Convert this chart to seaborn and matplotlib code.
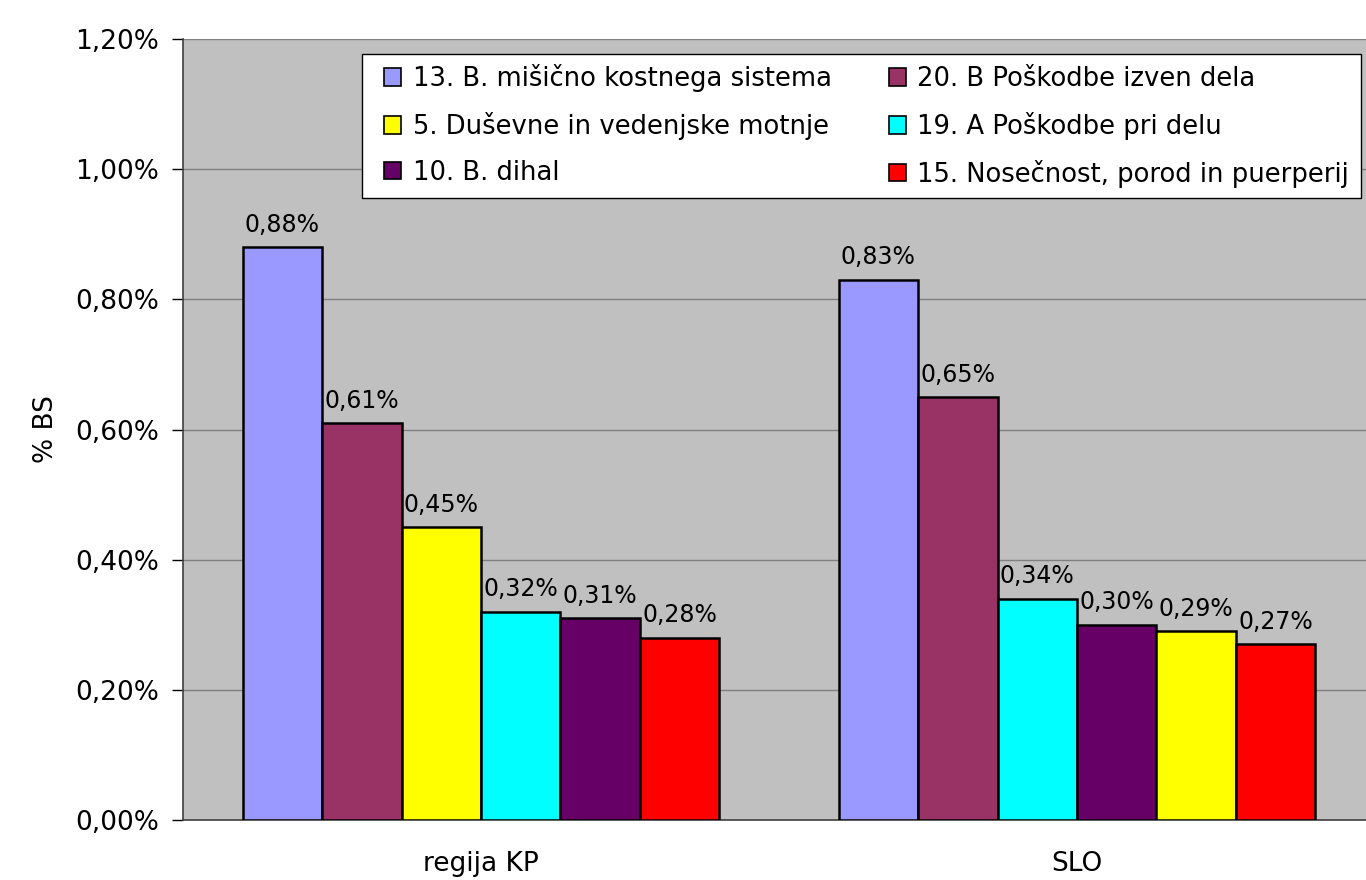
import numpy as np
import pandas as pd
import seaborn as sns
import matplotlib.pyplot as plt
from matplotlib.patches import Patch, Rectangle
from matplotlib.ticker import FuncFormatter, FixedLocator

# data (values in %)
groups = ["regija KP", "SLO"]
categories = [
    "13. B. mišično kostnega sistema",
    "20. B Poškodbe izven dela",
    "5. Duševne in vedenjske motnje",
    "19. A Poškodbe pri delu",
    "10. B. dihal",
    "15. Nosečnost, porod in puerperij",
]
colors = ["#9999FF", "#993366", "#FFFF00", "#00FFFF", "#660066", "#FF0000"]
kp_values = [0.88, 0.61, 0.45, 0.32, 0.31, 0.28]
slo_values = [0.83, 0.65, 0.29, 0.34, 0.30, 0.27]
legend_order = [0, 2, 4, 1, 3, 5]
yticks = [0.0, 0.2, 0.4, 0.6, 0.8, 1.0, 1.2]

W, H = 1366, 880


def fmt_pct(v, pos=None):
    return f"{v:.2f}%".replace(".", ",")


rows = []
for grp, vals in zip(groups, [kp_values, slo_values]):
    # bars are sorted by size inside each group
    order = np.argsort(vals)[::-1]
    for rank, idx in enumerate(order):
        rows.append({"group": grp, "rank": rank, "category": categories[idx], "value": vals[idx]})
df = pd.DataFrame(rows)
color_map = dict(zip(categories, colors))

sns.set_style("white")
plt.rcParams["font.family"] = ["DejaVu Sans"]
plt.rcParams["text.color"] = "black"
plt.rcParams["axes.labelcolor"] = "black"
plt.rcParams["xtick.color"] = "black"
plt.rcParams["ytick.color"] = "black"

fig = plt.figure(figsize=(W / 100, H / 100), dpi=100)
ax = fig.add_axes([183 / W, 60 / H, 1192 / W, 781 / H])
ax.set_facecolor("#C0C0C0")

sns.barplot(data=df, x="group", y="value", hue="rank", order=groups, dodge=True,
            width=0.8, gap=0, edgecolor="black", linewidth=1.8, ax=ax, legend=False,
            errorbar=None)

for rank, container in enumerate(ax.containers):
    for grp, bar in zip(groups, container):
        row = df[(df["group"] == grp) & (df["rank"] == rank)].iloc[0]
        bar.set_facecolor(color_map[row["category"]])
        bar.set_zorder(3)
        ax.text(bar.get_x() + bar.get_width() / 2, bar.get_height() + 0.016,
                fmt_pct(row["value"]), ha="center", va="bottom", fontsize=17, zorder=4)

ax.set_xlim(-0.5, 1.5)
ax.set_ylim(0, 1.2)
ax.yaxis.set_major_locator(FixedLocator(yticks))
ax.yaxis.set_major_formatter(FuncFormatter(fmt_pct))
ax.grid(axis="y", color="#808080", linewidth=1, zorder=0)
ax.set_axisbelow(True)

ax.set_xticks([0, 1])
ax.set_xticklabels(groups)
ax.xaxis.set_minor_locator(FixedLocator([-0.5, 0.5, 1.5]))
ax.tick_params(axis="x", which="major", length=0, pad=22, labelsize=19)
ax.tick_params(axis="x", which="minor", length=8, width=1, color="black", direction="out")
ax.tick_params(axis="y", length=8, width=1, color="black", direction="out", left=True, labelsize=19, pad=9)

for side in ["top", "right"]:
    ax.spines[side].set_visible(False)
ax.spines["left"].set_color("#404040")
ax.spines["bottom"].set_color("#404040")
ax.spines["left"].set_linewidth(1.2)
ax.spines["bottom"].set_linewidth(1.2)

ax.set_xlabel("")
ax.set_ylabel("% BS", fontsize=19, labelpad=12)

# legend box drawn separately so its padding matches the original
fig.patches.append(Rectangle((362 / W, 1 - 198 / H), 999 / W, 144 / H, transform=fig.transFigure,
                             facecolor="white", edgecolor="black", linewidth=1.0, zorder=1))

handles = [Patch(facecolor=colors[i], edgecolor="black", linewidth=1.2) for i in legend_order]
labels = [categories[i] for i in legend_order]
leg = fig.legend(handles, labels, ncol=2, loc="upper left",
                 bbox_to_anchor=(384 / W, 1 - 64 / H), borderaxespad=0, borderpad=0,
                 fontsize=18.6, frameon=False,
                 handlelength=0.66, handleheight=0.66, handletextpad=0.45,
                 labelspacing=0.77, columnspacing=2.2)
leg.set_zorder(5)

fig.savefig("out.png", dpi=100)
